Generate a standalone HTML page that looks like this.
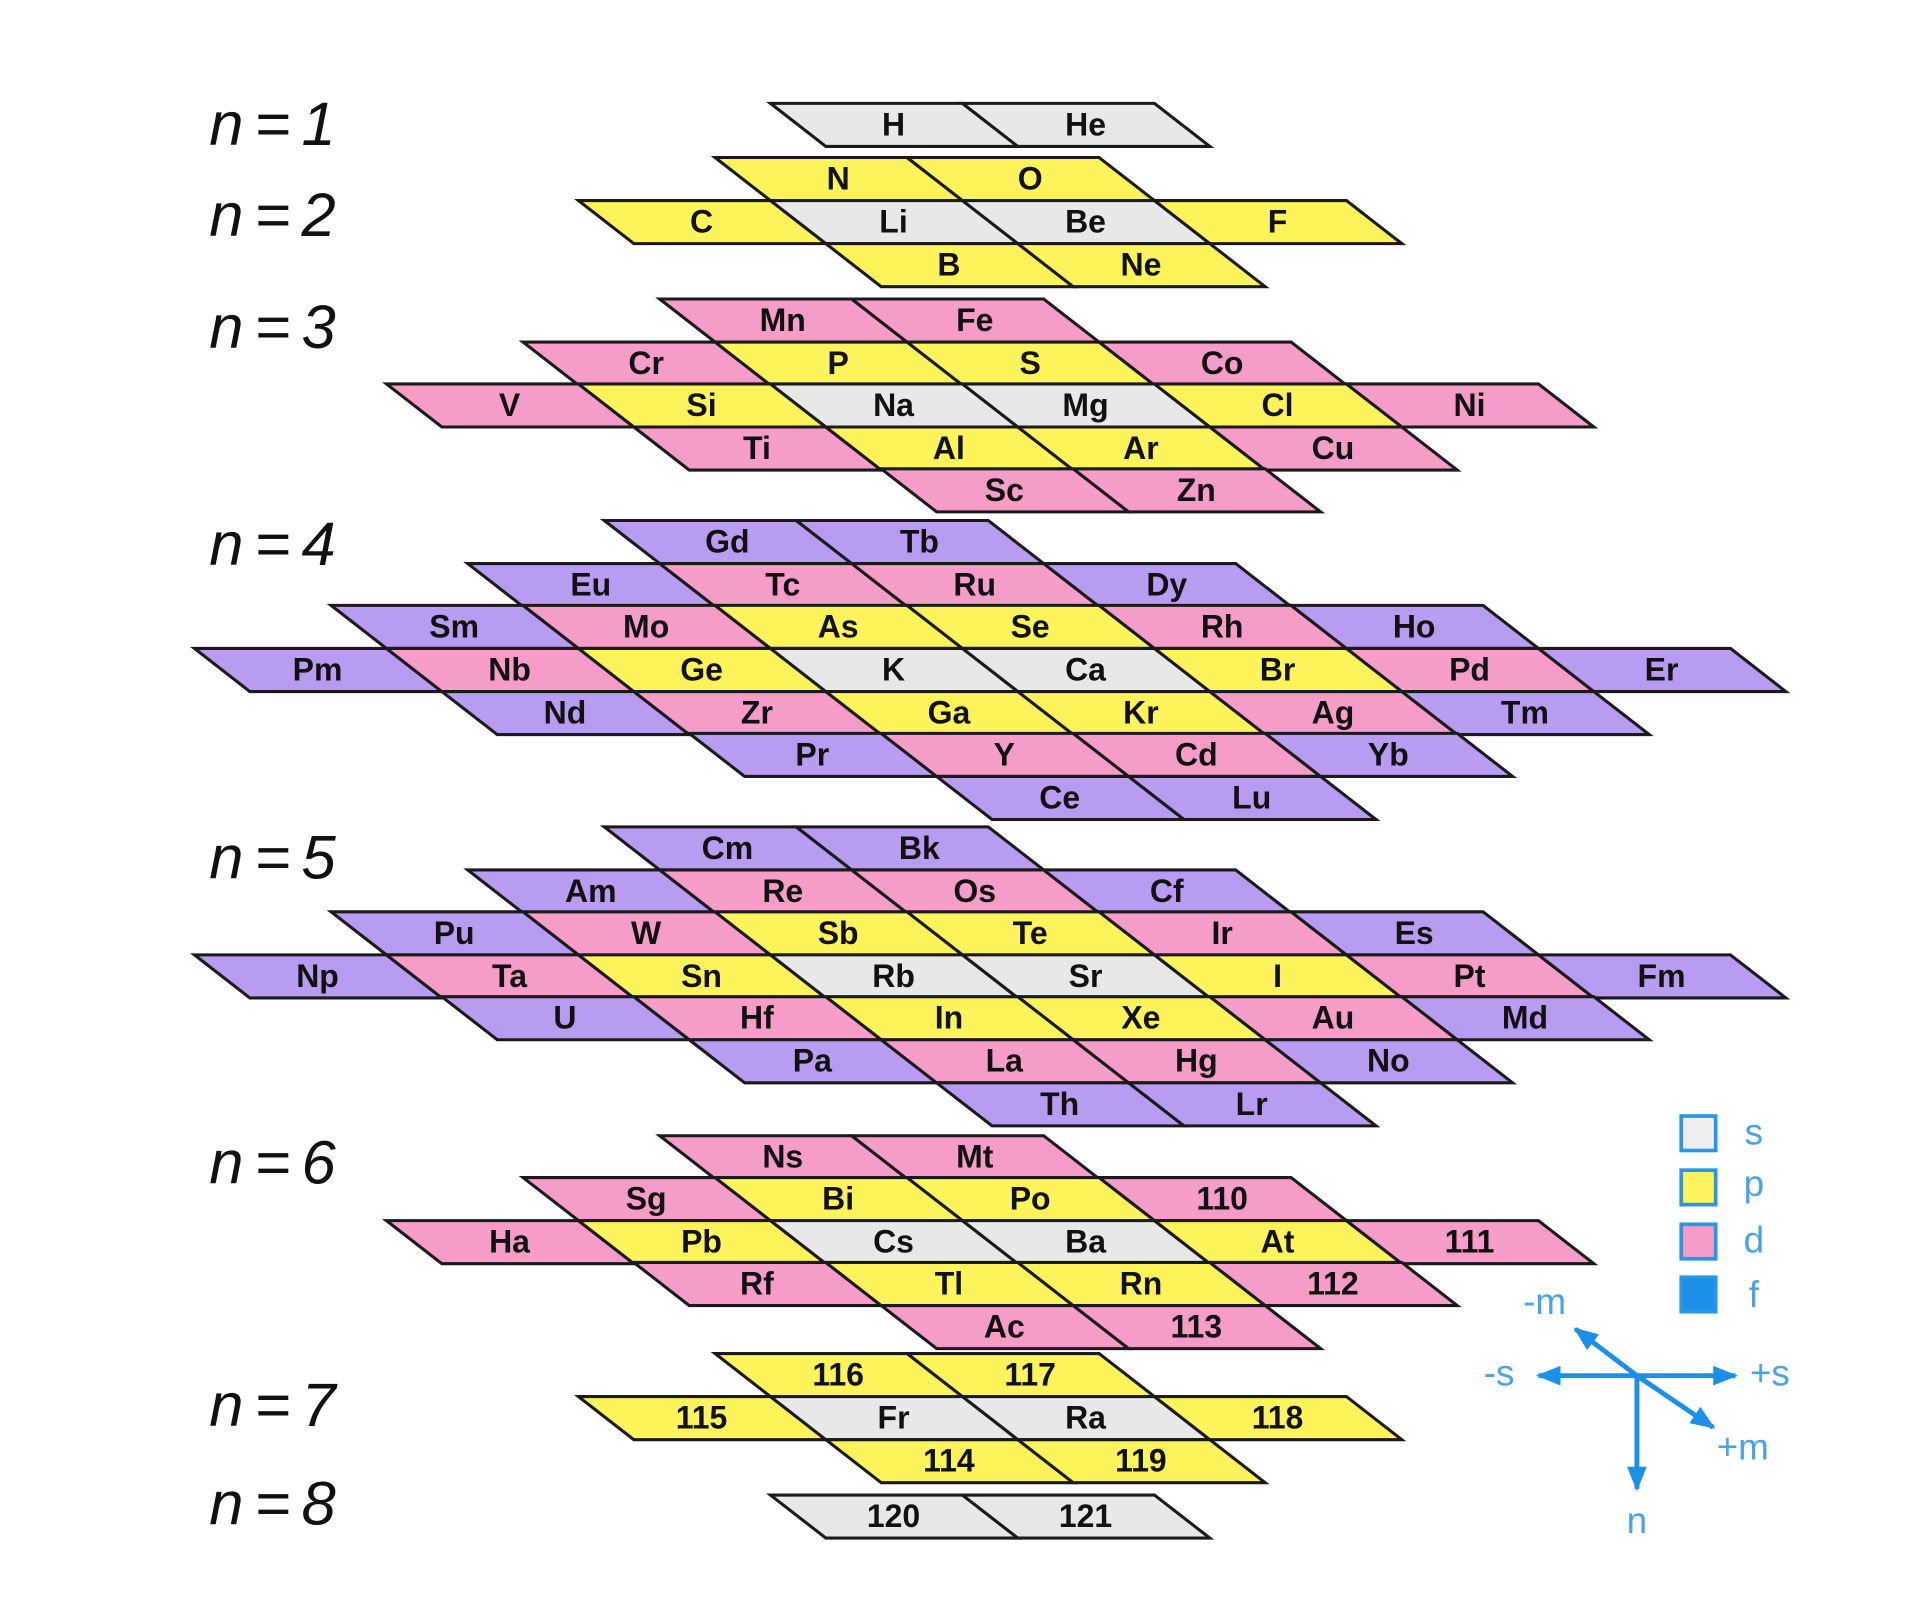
<!DOCTYPE html>
<html><head><meta charset="utf-8"><style>
html,body{margin:0;padding:0;background:#fff;}
svg{display:block}
.s{fill:#e8e8e8}.p{fill:#fdf35a}.d{fill:#f59cc8}.f{fill:#b89cf2}
use{stroke:#1a1a1a;stroke-width:2.5;stroke-linejoin:miter}
text.e{font-family:"Liberation Sans",sans-serif;font-weight:bold;font-size:26px;text-anchor:middle;fill:#111}
text.n{font-family:"Liberation Sans",sans-serif;font-style:italic;font-size:50px;fill:#111;letter-spacing:9px}
text.b{font-family:"Liberation Sans",sans-serif;font-size:30px;fill:#4aa3e8;text-anchor:middle}
</style></head><body>
<svg width="1920" height="1623" viewBox="0 0 1560 1319" preserveAspectRatio="none" xmlns="http://www.w3.org/2000/svg">
<defs><path id="c" d="M0,0 H156 L201,35 H45 Z"/>
<marker id="ar" viewBox="0 0 10 10" refX="9" refY="5" markerWidth="5" markerHeight="5" orient="auto"><path d="M0,1 L10,5 L0,9 Z" fill="#1a90e8"/></marker></defs>

<text class="n" x="170" y="118">n=1</text>
<text class="n" x="170" y="192">n=2</text>
<text class="n" x="170" y="283">n=3</text>
<text class="n" x="170" y="459">n=4</text>
<text class="n" x="170" y="714">n=5</text>
<text class="n" x="170" y="962">n=6</text>
<text class="n" x="170" y="1159">n=7</text>
<text class="n" x="170" y="1239">n=8</text>

<!-- n=1 -->
<g transform="translate(626,84)"><use href="#c" class="s"/><use href="#c" x="156" class="s"/><text class="e" x="100" y="26">H</text><text class="e" x="256" y="26">He</text></g>
<!-- n=2 -->
<g transform="translate(581,128)"><use href="#c" class="p"/><use href="#c" x="156" class="p"/><text class="e" x="100" y="26">N</text><text class="e" x="256" y="26">O</text></g>
<g transform="translate(470,163)"><use href="#c" class="p"/><use href="#c" x="156" class="s"/><use href="#c" x="312" class="s"/><use href="#c" x="468" class="p"/><text class="e" x="100" y="26">C</text><text class="e" x="256" y="26">Li</text><text class="e" x="412" y="26">Be</text><text class="e" x="568" y="26">F</text></g>
<g transform="translate(671,198)"><use href="#c" class="p"/><use href="#c" x="156" class="p"/><text class="e" x="100" y="26">B</text><text class="e" x="256" y="26">Ne</text></g>
<!-- n=3 -->
<g transform="translate(536,243)"><use href="#c" class="d"/><use href="#c" x="156" class="d"/><text class="e" x="100" y="26">Mn</text><text class="e" x="256" y="26">Fe</text></g>
<g transform="translate(425,278)"><use href="#c" class="d"/><use href="#c" x="156" class="p"/><use href="#c" x="312" class="p"/><use href="#c" x="468" class="d"/><text class="e" x="100" y="26">Cr</text><text class="e" x="256" y="26">P</text><text class="e" x="412" y="26">S</text><text class="e" x="568" y="26">Co</text></g>
<g transform="translate(314,312)"><use href="#c" class="d"/><use href="#c" x="156" class="p"/><use href="#c" x="312" class="s"/><use href="#c" x="468" class="s"/><use href="#c" x="624" class="p"/><use href="#c" x="780" class="d"/><text class="e" x="100" y="26">V</text><text class="e" x="256" y="26">Si</text><text class="e" x="412" y="26">Na</text><text class="e" x="568" y="26">Mg</text><text class="e" x="724" y="26">Cl</text><text class="e" x="880" y="26">Ni</text></g>
<g transform="translate(515,347)"><use href="#c" class="d"/><use href="#c" x="156" class="p"/><use href="#c" x="312" class="p"/><use href="#c" x="468" class="d"/><text class="e" x="100" y="26">Ti</text><text class="e" x="256" y="26">Al</text><text class="e" x="412" y="26">Ar</text><text class="e" x="568" y="26">Cu</text></g>
<g transform="translate(716,381)"><use href="#c" class="d"/><use href="#c" x="156" class="d"/><text class="e" x="100" y="26">Sc</text><text class="e" x="256" y="26">Zn</text></g>
<!-- n=4 -->
<g transform="translate(491,423)"><use href="#c" class="f"/><use href="#c" x="156" class="f"/><text class="e" x="100" y="26">Gd</text><text class="e" x="256" y="26">Tb</text></g>
<g transform="translate(380,458)"><use href="#c" class="f"/><use href="#c" x="156" class="d"/><use href="#c" x="312" class="d"/><use href="#c" x="468" class="f"/><text class="e" x="100" y="26">Eu</text><text class="e" x="256" y="26">Tc</text><text class="e" x="412" y="26">Ru</text><text class="e" x="568" y="26">Dy</text></g>
<g transform="translate(269,492)"><use href="#c" class="f"/><use href="#c" x="156" class="d"/><use href="#c" x="312" class="p"/><use href="#c" x="468" class="p"/><use href="#c" x="624" class="d"/><use href="#c" x="780" class="f"/><text class="e" x="100" y="26">Sm</text><text class="e" x="256" y="26">Mo</text><text class="e" x="412" y="26">As</text><text class="e" x="568" y="26">Se</text><text class="e" x="724" y="26">Rh</text><text class="e" x="880" y="26">Ho</text></g>
<g transform="translate(158,527)"><use href="#c" class="f"/><use href="#c" x="156" class="d"/><use href="#c" x="312" class="p"/><use href="#c" x="468" class="s"/><use href="#c" x="624" class="s"/><use href="#c" x="780" class="p"/><use href="#c" x="936" class="d"/><use href="#c" x="1092" class="f"/><text class="e" x="100" y="26">Pm</text><text class="e" x="256" y="26">Nb</text><text class="e" x="412" y="26">Ge</text><text class="e" x="568" y="26">K</text><text class="e" x="724" y="26">Ca</text><text class="e" x="880" y="26">Br</text><text class="e" x="1036" y="26">Pd</text><text class="e" x="1192" y="26">Er</text></g>
<g transform="translate(359,562)"><use href="#c" class="f"/><use href="#c" x="156" class="d"/><use href="#c" x="312" class="p"/><use href="#c" x="468" class="p"/><use href="#c" x="624" class="d"/><use href="#c" x="780" class="f"/><text class="e" x="100" y="26">Nd</text><text class="e" x="256" y="26">Zr</text><text class="e" x="412" y="26">Ga</text><text class="e" x="568" y="26">Kr</text><text class="e" x="724" y="26">Ag</text><text class="e" x="880" y="26">Tm</text></g>
<g transform="translate(560,596)"><use href="#c" class="f"/><use href="#c" x="156" class="d"/><use href="#c" x="312" class="d"/><use href="#c" x="468" class="f"/><text class="e" x="100" y="26">Pr</text><text class="e" x="256" y="26">Y</text><text class="e" x="412" y="26">Cd</text><text class="e" x="568" y="26">Yb</text></g>
<g transform="translate(761,631)"><use href="#c" class="f"/><use href="#c" x="156" class="f"/><text class="e" x="100" y="26">Ce</text><text class="e" x="256" y="26">Lu</text></g>
<!-- n=5 -->
<g transform="translate(491,672)"><use href="#c" class="f"/><use href="#c" x="156" class="f"/><text class="e" x="100" y="26">Cm</text><text class="e" x="256" y="26">Bk</text></g>
<g transform="translate(380,707)"><use href="#c" class="f"/><use href="#c" x="156" class="d"/><use href="#c" x="312" class="d"/><use href="#c" x="468" class="f"/><text class="e" x="100" y="26">Am</text><text class="e" x="256" y="26">Re</text><text class="e" x="412" y="26">Os</text><text class="e" x="568" y="26">Cf</text></g>
<g transform="translate(269,741)"><use href="#c" class="f"/><use href="#c" x="156" class="d"/><use href="#c" x="312" class="p"/><use href="#c" x="468" class="p"/><use href="#c" x="624" class="d"/><use href="#c" x="780" class="f"/><text class="e" x="100" y="26">Pu</text><text class="e" x="256" y="26">W</text><text class="e" x="412" y="26">Sb</text><text class="e" x="568" y="26">Te</text><text class="e" x="724" y="26">Ir</text><text class="e" x="880" y="26">Es</text></g>
<g transform="translate(158,776)"><use href="#c" class="f"/><use href="#c" x="156" class="d"/><use href="#c" x="312" class="p"/><use href="#c" x="468" class="s"/><use href="#c" x="624" class="s"/><use href="#c" x="780" class="p"/><use href="#c" x="936" class="d"/><use href="#c" x="1092" class="f"/><text class="e" x="100" y="26">Np</text><text class="e" x="256" y="26">Ta</text><text class="e" x="412" y="26">Sn</text><text class="e" x="568" y="26">Rb</text><text class="e" x="724" y="26">Sr</text><text class="e" x="880" y="26">I</text><text class="e" x="1036" y="26">Pt</text><text class="e" x="1192" y="26">Fm</text></g>
<g transform="translate(359,810)"><use href="#c" class="f"/><use href="#c" x="156" class="d"/><use href="#c" x="312" class="p"/><use href="#c" x="468" class="p"/><use href="#c" x="624" class="d"/><use href="#c" x="780" class="f"/><text class="e" x="100" y="26">U</text><text class="e" x="256" y="26">Hf</text><text class="e" x="412" y="26">In</text><text class="e" x="568" y="26">Xe</text><text class="e" x="724" y="26">Au</text><text class="e" x="880" y="26">Md</text></g>
<g transform="translate(560,845)"><use href="#c" class="f"/><use href="#c" x="156" class="d"/><use href="#c" x="312" class="d"/><use href="#c" x="468" class="f"/><text class="e" x="100" y="26">Pa</text><text class="e" x="256" y="26">La</text><text class="e" x="412" y="26">Hg</text><text class="e" x="568" y="26">No</text></g>
<g transform="translate(761,880)"><use href="#c" class="f"/><use href="#c" x="156" class="f"/><text class="e" x="100" y="26">Th</text><text class="e" x="256" y="26">Lr</text></g>
<!-- n=6 -->
<g transform="translate(536,923)"><use href="#c" class="d"/><use href="#c" x="156" class="d"/><text class="e" x="100" y="26">Ns</text><text class="e" x="256" y="26">Mt</text></g>
<g transform="translate(425,957)"><use href="#c" class="d"/><use href="#c" x="156" class="p"/><use href="#c" x="312" class="p"/><use href="#c" x="468" class="d"/><text class="e" x="100" y="26">Sg</text><text class="e" x="256" y="26">Bi</text><text class="e" x="412" y="26">Po</text><text class="e" x="568" y="26">110</text></g>
<g transform="translate(314,992)"><use href="#c" class="d"/><use href="#c" x="156" class="p"/><use href="#c" x="312" class="s"/><use href="#c" x="468" class="s"/><use href="#c" x="624" class="p"/><use href="#c" x="780" class="d"/><text class="e" x="100" y="26">Ha</text><text class="e" x="256" y="26">Pb</text><text class="e" x="412" y="26">Cs</text><text class="e" x="568" y="26">Ba</text><text class="e" x="724" y="26">At</text><text class="e" x="880" y="26">111</text></g>
<g transform="translate(515,1026)"><use href="#c" class="d"/><use href="#c" x="156" class="p"/><use href="#c" x="312" class="p"/><use href="#c" x="468" class="d"/><text class="e" x="100" y="26">Rf</text><text class="e" x="256" y="26">Tl</text><text class="e" x="412" y="26">Rn</text><text class="e" x="568" y="26">112</text></g>
<g transform="translate(716,1061)"><use href="#c" class="d"/><use href="#c" x="156" class="d"/><text class="e" x="100" y="26">Ac</text><text class="e" x="256" y="26">113</text></g>
<!-- n=7 -->
<g transform="translate(581,1100)"><use href="#c" class="p"/><use href="#c" x="156" class="p"/><text class="e" x="100" y="26">116</text><text class="e" x="256" y="26">117</text></g>
<g transform="translate(470,1135)"><use href="#c" class="p"/><use href="#c" x="156" class="s"/><use href="#c" x="312" class="s"/><use href="#c" x="468" class="p"/><text class="e" x="100" y="26">115</text><text class="e" x="256" y="26">Fr</text><text class="e" x="412" y="26">Ra</text><text class="e" x="568" y="26">118</text></g>
<g transform="translate(671,1170)"><use href="#c" class="p"/><use href="#c" x="156" class="p"/><text class="e" x="100" y="26">114</text><text class="e" x="256" y="26">119</text></g>
<!-- n=8 -->
<g transform="translate(626,1215)"><use href="#c" class="s"/><use href="#c" x="156" class="s"/><text class="e" x="100" y="26">120</text><text class="e" x="256" y="26">121</text></g>

<!-- legend -->
<rect x="1366" y="907" width="28" height="28" fill="#eee" stroke="#2a96ea" stroke-width="3"/>
<rect x="1366" y="951" width="28" height="28" fill="#fdf35a" stroke="#2a96ea" stroke-width="3"/>
<rect x="1366" y="995" width="28" height="28" fill="#f59cc8" stroke="#2a96ea" stroke-width="3"/>
<rect x="1366" y="1038" width="28" height="28" fill="#1a90e8" stroke="#2a96ea" stroke-width="3"/>
<text class="b" x="1425" y="930">s</text>
<text class="b" x="1425" y="972">p</text>
<text class="b" x="1425" y="1018">d</text>
<text class="b" x="1425" y="1062">f</text>
<g stroke="#1a90e8" stroke-width="4" fill="none">
<line x1="1330" y1="1118" x2="1250" y2="1118" marker-end="url(#ar)"/>
<line x1="1330" y1="1118" x2="1410" y2="1118" marker-end="url(#ar)"/>
<line x1="1330" y1="1118" x2="1280" y2="1080" marker-end="url(#ar)"/>
<line x1="1330" y1="1118" x2="1392" y2="1160" marker-end="url(#ar)"/>
<line x1="1330" y1="1118" x2="1330" y2="1210" marker-end="url(#ar)"/>
</g>
<text class="b" x="1255" y="1068">-m</text>
<text class="b" x="1218" y="1126">-s</text>
<text class="b" x="1438" y="1126">+s</text>
<text class="b" x="1416" y="1186">+m</text>
<text class="b" x="1330" y="1246">n</text>
</svg>
</body></html>
